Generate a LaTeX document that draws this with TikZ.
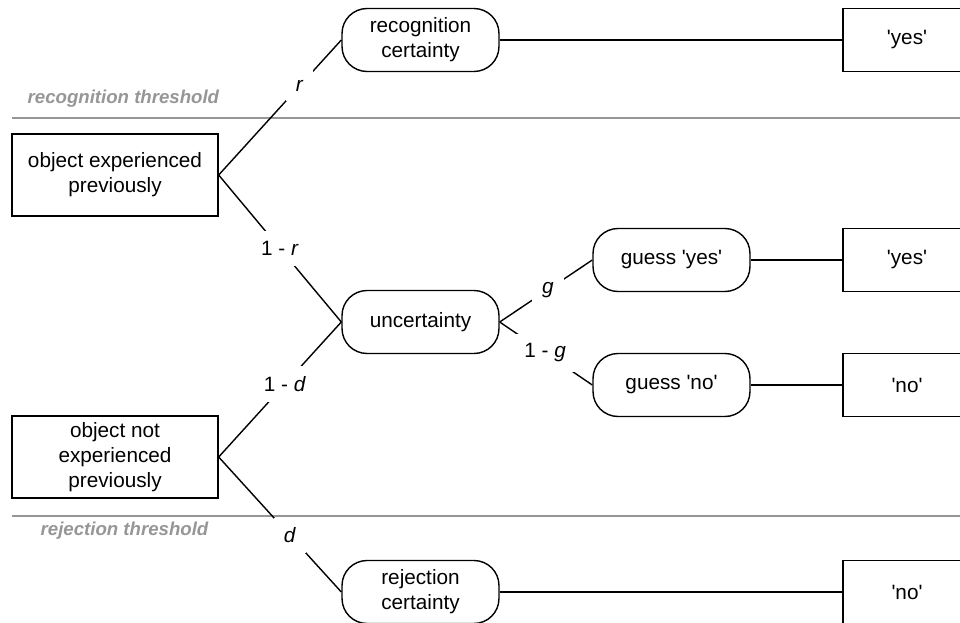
\documentclass[tikz,border=0pt]{standalone}
\usepackage{fontspec}
\setmainfont{Liberation Sans}
\usetikzlibrary{positioning}
\definecolor{threshgray}{RGB}{150,150,150}
\newcommand{\sq}{\textquotesingle}

\begin{document}
\begin{tikzpicture}[x=0.02cm, y=-0.02cm, line width=0.8pt,
  font=\fontsize{11.8}{14.2}\selectfont,
  state/.style={draw, rounded corners=0.5cm, minimum width=3.14cm, minimum height=1.26cm, align=center, inner sep=0pt},
  event/.style={draw, minimum width=4.12cm, minimum height=1.64cm, align=center},
  answer/.style={draw, minimum width=2.56cm, minimum height=1.26cm},
  prob/.style={fill=white, inner sep=0.2cm},
  threshold/.style={draw=threshgray, line width=1.1pt},
  thresh label/.style={text=threshgray, inner sep=0pt, font=\fontsize{10.6}{12}\selectfont\bfseries\itshape}]
  \useasboundingbox (0,0) rectangle (960,622);
  \clip (0,0) rectangle (960,622);

  % thresholds
  \draw[threshold] (12,118) -- (960,118);
  \draw[threshold] (12,516) -- (960,516);
  \node[thresh label, anchor=base west] (recthr) at (27,103) {recognition threshold};
  \node[thresh label, anchor=base west] (rejthr) at (40,535) {rejection threshold};

  % states
  \node[event] (exp) at (115,175) {object experienced\\previously};
  \node[event] (notexp) at (115,457) {object not\\experienced\\previously};
  \node[state] (recog) at (420.5,40) {recognition\\certainty};
  \node[state] (unc) at (420.5,322) {uncertainty};
  \node[state] (rej) at (420.5,592) {rejection\\certainty};
  \node[state] (gyes) at (671.5,260) {guess \sq yes\sq};
  \node[state] (gno) at (671.5,385) {guess \sq no\sq};

  % responses
  \node[answer] (yes1) at (907,40) {\sq yes\sq};
  \node[answer] (yes2) at (907,260) {\sq yes\sq};
  \node[answer] (no1) at (907,385) {\sq no\sq};
  \node[answer] (no2) at (907,592) {\sq no\sq};

  \path
    (exp.east) edge node[prob, pos=0.66] {\textit{r}} (recog.west)
    (exp.east) edge node[prob, pos=0.5] {1 - \textit{r}} (unc.west)
    (notexp.east) edge node[prob, pos=0.54] {1 - \textit{d}} (unc.west)
    (notexp.east) edge node[prob, pos=0.58] {\textit{d}} (rej.west)
    (unc.east) edge node[prob, pos=0.52] {\textit{g}} (gyes.west)
    (unc.east) edge node[prob, pos=0.49] {1 - \textit{g}} (gno.west)
    (recog) edge (yes1)
    (gyes) edge (yes2)
    (gno) edge (no1)
    (rej) edge (no2);
\end{tikzpicture}
\end{document}
